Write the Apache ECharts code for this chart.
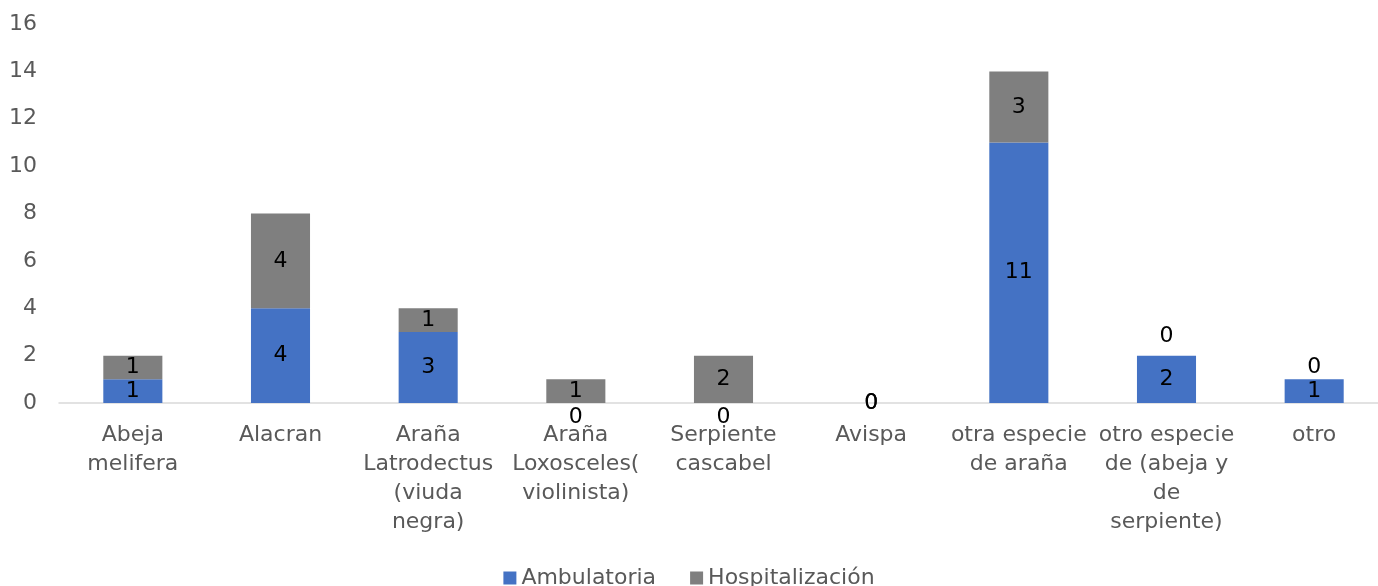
<!DOCTYPE html>
<html><head><meta charset="utf-8">
<script src="https://cdn.jsdelivr.net/npm/echarts@6/dist/echarts.min.js"></script>
<style>html,body{margin:0;padding:0;background:#fff}#c{width:1378px;height:586px}</style>
</head><body><div id="c"></div>
<script>
const categories = ["Abeja\nmelifera","Alacran","Araña\nLatrodectus\n(viuda\nnegra)","Araña\nLoxosceles(\nviolinista)","Serpiente\ncascabel","Avispa","otra especie\nde araña","otro especie\nde (abeja y\nde\nserpiente)","otro"];
const ambulatoria = [1,4,3,0,0,0,11,2,1];
const hospitalizacion = [1,4,1,1,2,0,3,0,0];
const yTicks = [0,2,4,6,8,10,12,14,16];

const FONT = "DejaVu Sans";
function build(vals, other, isTop){
  return vals.map((v,i)=>{
    let off = [0,0];
    if (v === 0 && other[i] > 0) off = isTop ? [0, other[i] > 1 ? -19 : -12] : [0, 14];
    return {value:v, label:{offset:off}};
  });
}
const chart = echarts.init(document.getElementById('c'));
const lbl = {show:true, position:'inside', color:'#000', fontFamily:FONT, fontSize:22};
chart.setOption({
  animation:false,
  grid:{left:59, width:1329, top:24, height:379, containLabel:false, outerBoundsMode:'none'},
  legend:{top:562, left:'center', itemWidth:13, itemHeight:13, itemGap:34,
    icon:'rect', textStyle:{color:'#595959', fontFamily:FONT, fontSize:22},
    data:['Ambulatoria','Hospitalización']},
  xAxis:{type:'category', data:categories,
    axisLine:{lineStyle:{color:'#D9D9D9', width:1.5}}, axisTick:{show:false},
    axisLabel:{interval:0, color:'#595959', fontFamily:FONT, fontSize:22, lineHeight:29, margin:18}},
  yAxis:{type:'value', min:yTicks[0], max:yTicks[yTicks.length-1], interval:2,
    splitLine:{show:false}, axisLine:{show:false}, axisTick:{show:false},
    axisLabel:{color:'#595959', fontFamily:FONT, fontSize:22, margin:22}},
  series:[
    {name:'Ambulatoria', type:'bar', stack:'s', barWidth:'40%', itemStyle:{color:'#4472C4'},
     label:lbl, data:build(ambulatoria, hospitalizacion, false)},
    {name:'Hospitalización', type:'bar', stack:'s', barWidth:'40%', itemStyle:{color:'#7F7F7F'},
     label:lbl, data:build(hospitalizacion, ambulatoria, true)}
  ]
});
</script></body></html>
